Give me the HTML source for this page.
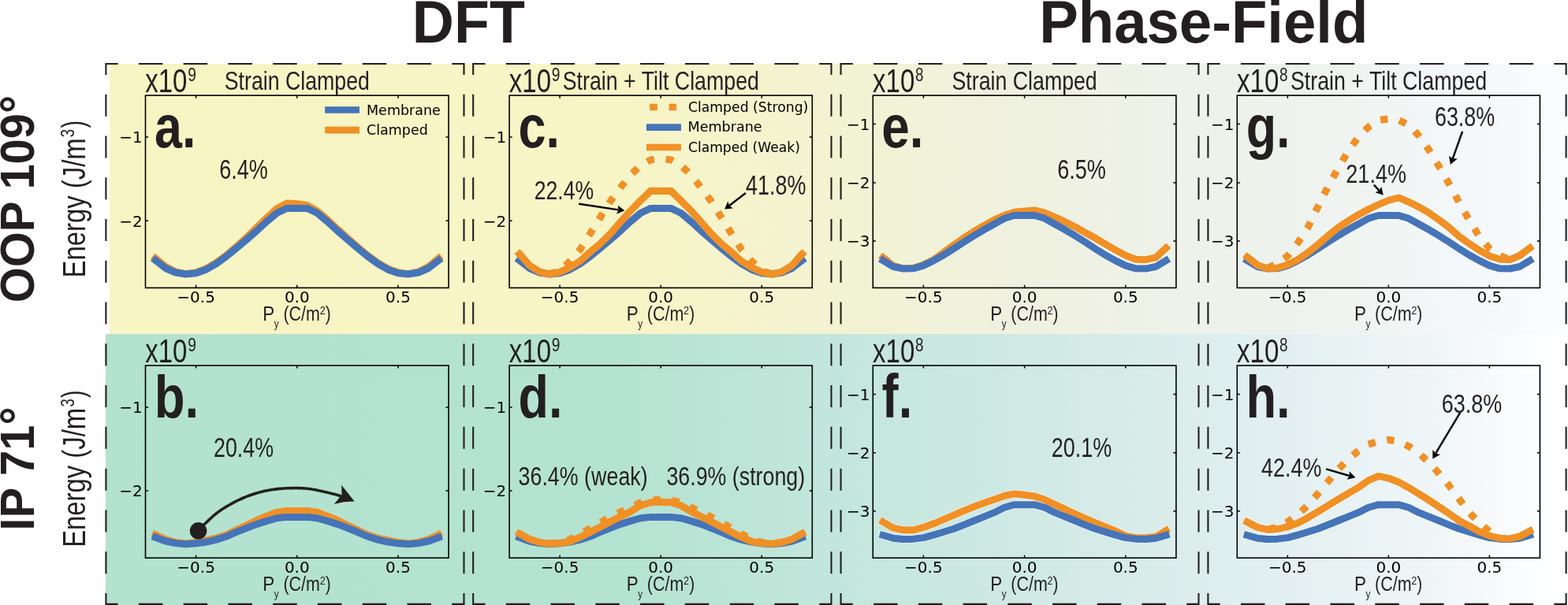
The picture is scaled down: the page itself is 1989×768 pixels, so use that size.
<!DOCTYPE html>
<html><head><meta charset="utf-8"><title>DFT vs Phase-Field energy landscapes</title>
<style>html,body{margin:0;padding:0;background:#fff;} svg{display:block;}</style></head>
<body><svg width="1989" height="768" viewBox="0 0 1989 768">
<defs>
<linearGradient id="gTop" gradientUnits="userSpaceOnUse" x1="139" y1="0" x2="1989" y2="0">
 <stop offset="0.0000" stop-color="#f8f5c4"/>
 <stop offset="0.3600" stop-color="#f7f4c6"/>
 <stop offset="0.5195" stop-color="#f2f3d4"/>
 <stop offset="0.6200" stop-color="#eff1df"/>
 <stop offset="0.7519" stop-color="#eef2ea"/>
 <stop offset="0.8000" stop-color="#edf2ec"/>
 <stop offset="0.8708" stop-color="#f0f5f3"/>
 <stop offset="0.9249" stop-color="#f3f7f9"/>
 <stop offset="0.9789" stop-color="#f9fbfd"/>
 <stop offset="1.0000" stop-color="#fcfdfe"/>
</linearGradient>
<linearGradient id="gBot" gradientUnits="userSpaceOnUse" x1="134" y1="0" x2="1989" y2="0">
 <stop offset="0.0000" stop-color="#b3e2cf"/>
 <stop offset="0.3590" stop-color="#b5e3d2"/>
 <stop offset="0.6216" stop-color="#cfe9e4"/>
 <stop offset="0.8000" stop-color="#e2eff0"/>
 <stop offset="0.8981" stop-color="#eef5f7"/>
 <stop offset="0.9520" stop-color="#f8fafc"/>
 <stop offset="0.9844" stop-color="#fdfeff"/>
 <stop offset="1.0000" stop-color="#ffffff"/>
</linearGradient>
</defs>
<rect x="0" y="0" width="1989" height="768" fill="#ffffff"/>
<rect x="139" y="81" width="1850" height="343" fill="url(#gTop)"/>
<rect x="134" y="424" width="1855" height="344" fill="url(#gBot)"/>
<path d="M133.35 81.05H149.65M175.91 81.05H206.41M232.68 81.05H263.18M289.44 81.05H319.94M346.20 81.05H376.70M402.96 81.05H433.46M459.73 81.05H490.23M516.49 81.05H546.99M573.25 81.05H589.55M133.35 766.90H149.65M175.91 766.90H206.41M232.68 766.90H263.18M289.44 766.90H319.94M346.20 766.90H376.70M402.96 766.90H433.46M459.73 766.90H490.23M516.49 766.90H546.99M573.25 766.90H589.55M134.40 80.00V95.05M134.40 119.81V147.81M134.40 172.57V200.57M134.40 225.32V253.32M134.40 278.08V306.08M134.40 330.84V358.84M134.40 383.60V411.60M134.40 436.35V464.35M134.40 489.11V517.11M134.40 541.87V569.87M134.40 594.63V622.63M134.40 647.38V675.38M134.40 700.14V728.14M134.40 752.90V767.95M588.50 80.00V95.05M588.50 119.81V147.81M588.50 172.57V200.57M588.50 225.32V253.32M588.50 278.08V306.08M588.50 330.84V358.84M588.50 383.60V411.60M588.50 436.35V464.35M588.50 489.11V517.11M588.50 541.87V569.87M588.50 594.63V622.63M588.50 647.38V675.38M588.50 700.14V728.14M588.50 752.90V767.95M599.15 81.05H615.45M641.74 81.05H672.24M698.53 81.05H729.03M755.31 81.05H785.81M812.10 81.05H842.60M868.89 81.05H899.39M925.68 81.05H956.18M982.46 81.05H1012.96M1039.25 81.05H1055.55M599.15 766.90H615.45M641.74 766.90H672.24M698.53 766.90H729.03M755.31 766.90H785.81M812.10 766.90H842.60M868.89 766.90H899.39M925.68 766.90H956.18M982.46 766.90H1012.96M1039.25 766.90H1055.55M600.20 80.00V95.05M600.20 119.81V147.81M600.20 172.57V200.57M600.20 225.32V253.32M600.20 278.08V306.08M600.20 330.84V358.84M600.20 383.60V411.60M600.20 436.35V464.35M600.20 489.11V517.11M600.20 541.87V569.87M600.20 594.63V622.63M600.20 647.38V675.38M600.20 700.14V728.14M600.20 752.90V767.95M1054.50 80.00V95.05M1054.50 119.81V147.81M1054.50 172.57V200.57M1054.50 225.32V253.32M1054.50 278.08V306.08M1054.50 330.84V358.84M1054.50 383.60V411.60M1054.50 436.35V464.35M1054.50 489.11V517.11M1054.50 541.87V569.87M1054.50 594.63V622.63M1054.50 647.38V675.38M1054.50 700.14V728.14M1054.50 752.90V767.95M1065.55 81.05H1081.85M1108.09 81.05H1138.59M1164.82 81.05H1195.32M1221.56 81.05H1252.06M1278.30 81.05H1308.80M1335.04 81.05H1365.54M1391.77 81.05H1422.27M1448.51 81.05H1479.01M1505.25 81.05H1521.55M1065.55 766.90H1081.85M1108.09 766.90H1138.59M1164.82 766.90H1195.32M1221.56 766.90H1252.06M1278.30 766.90H1308.80M1335.04 766.90H1365.54M1391.77 766.90H1422.27M1448.51 766.90H1479.01M1505.25 766.90H1521.55M1066.60 80.00V95.05M1066.60 119.81V147.81M1066.60 172.57V200.57M1066.60 225.32V253.32M1066.60 278.08V306.08M1066.60 330.84V358.84M1066.60 383.60V411.60M1066.60 436.35V464.35M1066.60 489.11V517.11M1066.60 541.87V569.87M1066.60 594.63V622.63M1066.60 647.38V675.38M1066.60 700.14V728.14M1066.60 752.90V767.95M1520.50 80.00V95.05M1520.50 119.81V147.81M1520.50 172.57V200.57M1520.50 225.32V253.32M1520.50 278.08V306.08M1520.50 330.84V358.84M1520.50 383.60V411.60M1520.50 436.35V464.35M1520.50 489.11V517.11M1520.50 541.87V569.87M1520.50 594.63V622.63M1520.50 647.38V675.38M1520.50 700.14V728.14M1520.50 752.90V767.95M1531.35 81.05H1547.65M1573.93 81.05H1604.43M1630.70 81.05H1661.20M1687.48 81.05H1717.98M1744.25 81.05H1774.75M1801.03 81.05H1831.53M1857.80 81.05H1888.30M1914.58 81.05H1945.08M1971.35 81.05H1987.65M1531.35 766.90H1547.65M1573.93 766.90H1604.43M1630.70 766.90H1661.20M1687.48 766.90H1717.98M1744.25 766.90H1774.75M1801.03 766.90H1831.53M1857.80 766.90H1888.30M1914.58 766.90H1945.08M1971.35 766.90H1987.65M1532.40 80.00V95.05M1532.40 119.81V147.81M1532.40 172.57V200.57M1532.40 225.32V253.32M1532.40 278.08V306.08M1532.40 330.84V358.84M1532.40 383.60V411.60M1532.40 436.35V464.35M1532.40 489.11V517.11M1532.40 541.87V569.87M1532.40 594.63V622.63M1532.40 647.38V675.38M1532.40 700.14V728.14M1532.40 752.90V767.95M1986.60 80.00V95.05M1986.60 119.81V147.81M1986.60 172.57V200.57M1986.60 225.32V253.32M1986.60 278.08V306.08M1986.60 330.84V358.84M1986.60 383.60V411.60M1986.60 436.35V464.35M1986.60 489.11V517.11M1986.60 541.87V569.87M1986.60 594.63V622.63M1986.60 647.38V675.38M1986.60 700.14V728.14M1986.60 752.90V767.95" stroke="#231f20" stroke-width="2.1" fill="none"/>
<text transform="translate(522.79 53.60) scale(0.9591 1)" font-family="'Liberation Sans', Arial, sans-serif" font-size="76.75" font-weight="bold" fill="#231f20">DFT</text>
<text transform="translate(1318.14 53.90) scale(0.9689 1)" font-family="'Liberation Sans', Arial, sans-serif" font-size="76.75" font-weight="bold" fill="#231f20">Phase-Field</text>
<text transform="translate(43.14 384.21) rotate(-90) scale(0.9522 1)" font-family="'Liberation Sans', Arial, sans-serif" font-size="60.78" font-weight="bold" fill="#231f20">OOP 109°</text>
<text transform="translate(43.20 673.66) rotate(-90) scale(0.9580 1)" font-family="'Liberation Sans', Arial, sans-serif" font-size="60.43" font-weight="bold" fill="#231f20">IP 71°</text>
<text transform="translate(107.50 352.44) rotate(-90) scale(0.7938 1)" font-family="'Liberation Sans', Arial, sans-serif" font-size="41.40" fill="#231f20">Energy (J/m</text>
<text transform="translate(94.36 174.14) rotate(-90) scale(0.7594 1)" font-family="'Liberation Sans', Arial, sans-serif" font-size="24.48" fill="#231f20">3</text>
<text transform="translate(107.37 162.49) rotate(-90) scale(0.7157 1)" font-family="'Liberation Sans', Arial, sans-serif" font-size="40.32" fill="#231f20">)</text>
<text transform="translate(107.50 694.84) rotate(-90) scale(0.7938 1)" font-family="'Liberation Sans', Arial, sans-serif" font-size="41.40" fill="#231f20">Energy (J/m</text>
<text transform="translate(94.36 516.54) rotate(-90) scale(0.7594 1)" font-family="'Liberation Sans', Arial, sans-serif" font-size="24.48" fill="#231f20">3</text>
<text transform="translate(107.37 504.89) rotate(-90) scale(0.7157 1)" font-family="'Liberation Sans', Arial, sans-serif" font-size="40.32" fill="#231f20">)</text>
<path d="M248.60 365.40v-3.6M248.60 121.15v3.6M376.80 365.40v-3.6M376.80 121.15v3.6M505.00 365.40v-3.6M505.00 121.15v3.6M184.50 174.10h3.6M569.10 174.10h-3.6M184.50 280.20h3.6M569.10 280.20h-3.6" stroke="#000" stroke-width="1.5" fill="none"/>
<rect x="184.50" y="121.15" width="384.60" height="244.25" fill="none" stroke="#000" stroke-width="1.6"/>
<text x="248.60" y="384.20" font-family="'DejaVu Sans', sans-serif" font-size="20" text-anchor="middle" fill="#000">−0.5</text>
<text x="376.80" y="384.20" font-family="'DejaVu Sans', sans-serif" font-size="20" text-anchor="middle" fill="#000">0.0</text>
<text x="505.00" y="384.20" font-family="'DejaVu Sans', sans-serif" font-size="20" text-anchor="middle" fill="#000">0.5</text>
<text x="180.70" y="181.45" font-family="'DejaVu Sans', sans-serif" font-size="20" text-anchor="end" fill="#000">−1</text>
<text x="180.70" y="287.55" font-family="'DejaVu Sans', sans-serif" font-size="20" text-anchor="end" fill="#000">−2</text>
<text transform="translate(333.33 407.20) scale(0.8518 1)" font-family="'Liberation Sans', Arial, sans-serif" font-size="26.36" fill="#231f20">P</text>
<text transform="translate(347.86 415.94) scale(0.7946 1)" font-family="'Liberation Sans', Arial, sans-serif" font-size="14.80" fill="#231f20">y</text>
<text transform="translate(359.44 407.31) scale(0.8097 1)" font-family="'Liberation Sans', Arial, sans-serif" font-size="26.56" fill="#231f20">(C/m</text>
<text transform="translate(405.66 399.10) scale(0.9029 1)" font-family="'Liberation Sans', Arial, sans-serif" font-size="14.07" fill="#231f20">2</text>
<text transform="translate(412.76 407.31) scale(0.7864 1)" font-family="'Liberation Sans', Arial, sans-serif" font-size="26.56" fill="#231f20">)</text>
<text transform="translate(184.26 116.58) scale(0.7802 1)" font-family="'Liberation Sans', Arial, sans-serif" font-size="42.31" fill="#231f20">x10</text>
<text transform="translate(238.20 103.11) scale(0.7915 1)" font-family="'Liberation Sans', Arial, sans-serif" font-size="24.27" fill="#231f20">9</text>
<text transform="translate(284.75 113.95) scale(0.7966 1)" font-family="'Liberation Sans', Arial, sans-serif" font-size="33.57" fill="#231f20">Strain Clamped</text>
<path d="M710.13 365.40v-3.6M710.13 121.15v3.6M838.20 365.40v-3.6M838.20 121.15v3.6M966.27 365.40v-3.6M966.27 121.15v3.6M646.10 174.10h3.6M1030.30 174.10h-3.6M646.10 280.20h3.6M1030.30 280.20h-3.6" stroke="#000" stroke-width="1.5" fill="none"/>
<rect x="646.10" y="121.15" width="384.20" height="244.25" fill="none" stroke="#000" stroke-width="1.6"/>
<text x="710.13" y="384.20" font-family="'DejaVu Sans', sans-serif" font-size="20" text-anchor="middle" fill="#000">−0.5</text>
<text x="838.20" y="384.20" font-family="'DejaVu Sans', sans-serif" font-size="20" text-anchor="middle" fill="#000">0.0</text>
<text x="966.27" y="384.20" font-family="'DejaVu Sans', sans-serif" font-size="20" text-anchor="middle" fill="#000">0.5</text>
<text x="642.30" y="181.45" font-family="'DejaVu Sans', sans-serif" font-size="20" text-anchor="end" fill="#000">−1</text>
<text x="642.30" y="287.55" font-family="'DejaVu Sans', sans-serif" font-size="20" text-anchor="end" fill="#000">−2</text>
<text transform="translate(794.73 407.20) scale(0.8518 1)" font-family="'Liberation Sans', Arial, sans-serif" font-size="26.36" fill="#231f20">P</text>
<text transform="translate(809.26 415.94) scale(0.7946 1)" font-family="'Liberation Sans', Arial, sans-serif" font-size="14.80" fill="#231f20">y</text>
<text transform="translate(820.84 407.31) scale(0.8097 1)" font-family="'Liberation Sans', Arial, sans-serif" font-size="26.56" fill="#231f20">(C/m</text>
<text transform="translate(867.06 399.10) scale(0.9029 1)" font-family="'Liberation Sans', Arial, sans-serif" font-size="14.07" fill="#231f20">2</text>
<text transform="translate(874.16 407.31) scale(0.7864 1)" font-family="'Liberation Sans', Arial, sans-serif" font-size="26.56" fill="#231f20">)</text>
<text transform="translate(645.86 116.58) scale(0.7802 1)" font-family="'Liberation Sans', Arial, sans-serif" font-size="42.31" fill="#231f20">x10</text>
<text transform="translate(699.80 103.11) scale(0.7915 1)" font-family="'Liberation Sans', Arial, sans-serif" font-size="24.27" fill="#231f20">9</text>
<text transform="translate(713.75 113.95) scale(0.7975 1)" font-family="'Liberation Sans', Arial, sans-serif" font-size="33.57" fill="#231f20">Strain + Tilt Clamped</text>
<path d="M1171.40 365.40v-3.6M1171.40 121.15v3.6M1299.60 365.40v-3.6M1299.60 121.15v3.6M1427.80 365.40v-3.6M1427.80 121.15v3.6M1107.30 157.60h3.6M1491.90 157.60h-3.6M1107.30 231.90h3.6M1491.90 231.90h-3.6M1107.30 305.90h3.6M1491.90 305.90h-3.6" stroke="#000" stroke-width="1.5" fill="none"/>
<rect x="1107.30" y="121.15" width="384.60" height="244.25" fill="none" stroke="#000" stroke-width="1.6"/>
<text x="1171.40" y="384.20" font-family="'DejaVu Sans', sans-serif" font-size="20" text-anchor="middle" fill="#000">−0.5</text>
<text x="1299.60" y="384.20" font-family="'DejaVu Sans', sans-serif" font-size="20" text-anchor="middle" fill="#000">0.0</text>
<text x="1427.80" y="384.20" font-family="'DejaVu Sans', sans-serif" font-size="20" text-anchor="middle" fill="#000">0.5</text>
<text x="1103.50" y="164.95" font-family="'DejaVu Sans', sans-serif" font-size="20" text-anchor="end" fill="#000">−1</text>
<text x="1103.50" y="239.25" font-family="'DejaVu Sans', sans-serif" font-size="20" text-anchor="end" fill="#000">−2</text>
<text x="1103.50" y="313.25" font-family="'DejaVu Sans', sans-serif" font-size="20" text-anchor="end" fill="#000">−3</text>
<text transform="translate(1256.13 407.20) scale(0.8518 1)" font-family="'Liberation Sans', Arial, sans-serif" font-size="26.36" fill="#231f20">P</text>
<text transform="translate(1270.66 415.94) scale(0.7946 1)" font-family="'Liberation Sans', Arial, sans-serif" font-size="14.80" fill="#231f20">y</text>
<text transform="translate(1282.24 407.31) scale(0.8097 1)" font-family="'Liberation Sans', Arial, sans-serif" font-size="26.56" fill="#231f20">(C/m</text>
<text transform="translate(1328.46 399.10) scale(0.9029 1)" font-family="'Liberation Sans', Arial, sans-serif" font-size="14.07" fill="#231f20">2</text>
<text transform="translate(1335.56 407.31) scale(0.7864 1)" font-family="'Liberation Sans', Arial, sans-serif" font-size="26.56" fill="#231f20">)</text>
<text transform="translate(1107.06 116.58) scale(0.7802 1)" font-family="'Liberation Sans', Arial, sans-serif" font-size="42.31" fill="#231f20">x10</text>
<text transform="translate(1161.08 103.11) scale(0.7803 1)" font-family="'Liberation Sans', Arial, sans-serif" font-size="24.27" fill="#231f20">8</text>
<text transform="translate(1207.55 113.95) scale(0.7966 1)" font-family="'Liberation Sans', Arial, sans-serif" font-size="33.57" fill="#231f20">Strain Clamped</text>
<path d="M1633.32 365.40v-3.6M1633.32 121.15v3.6M1761.35 365.40v-3.6M1761.35 121.15v3.6M1889.38 365.40v-3.6M1889.38 121.15v3.6M1569.30 157.60h3.6M1953.40 157.60h-3.6M1569.30 231.90h3.6M1953.40 231.90h-3.6M1569.30 305.90h3.6M1953.40 305.90h-3.6" stroke="#000" stroke-width="1.5" fill="none"/>
<rect x="1569.30" y="121.15" width="384.10" height="244.25" fill="none" stroke="#000" stroke-width="1.6"/>
<text x="1633.32" y="384.20" font-family="'DejaVu Sans', sans-serif" font-size="20" text-anchor="middle" fill="#000">−0.5</text>
<text x="1761.35" y="384.20" font-family="'DejaVu Sans', sans-serif" font-size="20" text-anchor="middle" fill="#000">0.0</text>
<text x="1889.38" y="384.20" font-family="'DejaVu Sans', sans-serif" font-size="20" text-anchor="middle" fill="#000">0.5</text>
<text x="1565.50" y="164.95" font-family="'DejaVu Sans', sans-serif" font-size="20" text-anchor="end" fill="#000">−1</text>
<text x="1565.50" y="239.25" font-family="'DejaVu Sans', sans-serif" font-size="20" text-anchor="end" fill="#000">−2</text>
<text x="1565.50" y="313.25" font-family="'DejaVu Sans', sans-serif" font-size="20" text-anchor="end" fill="#000">−3</text>
<text transform="translate(1717.88 407.20) scale(0.8518 1)" font-family="'Liberation Sans', Arial, sans-serif" font-size="26.36" fill="#231f20">P</text>
<text transform="translate(1732.41 415.94) scale(0.7946 1)" font-family="'Liberation Sans', Arial, sans-serif" font-size="14.80" fill="#231f20">y</text>
<text transform="translate(1743.99 407.31) scale(0.8097 1)" font-family="'Liberation Sans', Arial, sans-serif" font-size="26.56" fill="#231f20">(C/m</text>
<text transform="translate(1790.21 399.10) scale(0.9029 1)" font-family="'Liberation Sans', Arial, sans-serif" font-size="14.07" fill="#231f20">2</text>
<text transform="translate(1797.31 407.31) scale(0.7864 1)" font-family="'Liberation Sans', Arial, sans-serif" font-size="26.56" fill="#231f20">)</text>
<text transform="translate(1569.06 116.58) scale(0.7802 1)" font-family="'Liberation Sans', Arial, sans-serif" font-size="42.31" fill="#231f20">x10</text>
<text transform="translate(1623.08 103.11) scale(0.7803 1)" font-family="'Liberation Sans', Arial, sans-serif" font-size="24.27" fill="#231f20">8</text>
<text transform="translate(1636.95 113.95) scale(0.7975 1)" font-family="'Liberation Sans', Arial, sans-serif" font-size="33.57" fill="#231f20">Strain + Tilt Clamped</text>
<path d="M248.60 708.25v-3.6M248.60 464.00v3.6M376.80 708.25v-3.6M376.80 464.00v3.6M505.00 708.25v-3.6M505.00 464.00v3.6M184.50 516.95h3.6M569.10 516.95h-3.6M184.50 623.05h3.6M569.10 623.05h-3.6" stroke="#000" stroke-width="1.5" fill="none"/>
<rect x="184.50" y="464.00" width="384.60" height="244.25" fill="none" stroke="#000" stroke-width="1.6"/>
<text x="248.60" y="727.05" font-family="'DejaVu Sans', sans-serif" font-size="20" text-anchor="middle" fill="#000">−0.5</text>
<text x="376.80" y="727.05" font-family="'DejaVu Sans', sans-serif" font-size="20" text-anchor="middle" fill="#000">0.0</text>
<text x="505.00" y="727.05" font-family="'DejaVu Sans', sans-serif" font-size="20" text-anchor="middle" fill="#000">0.5</text>
<text x="180.70" y="524.30" font-family="'DejaVu Sans', sans-serif" font-size="20" text-anchor="end" fill="#000">−1</text>
<text x="180.70" y="630.40" font-family="'DejaVu Sans', sans-serif" font-size="20" text-anchor="end" fill="#000">−2</text>
<text transform="translate(333.33 750.05) scale(0.8518 1)" font-family="'Liberation Sans', Arial, sans-serif" font-size="26.36" fill="#231f20">P</text>
<text transform="translate(347.86 758.79) scale(0.7946 1)" font-family="'Liberation Sans', Arial, sans-serif" font-size="14.80" fill="#231f20">y</text>
<text transform="translate(359.44 750.16) scale(0.8097 1)" font-family="'Liberation Sans', Arial, sans-serif" font-size="26.56" fill="#231f20">(C/m</text>
<text transform="translate(405.66 741.95) scale(0.9029 1)" font-family="'Liberation Sans', Arial, sans-serif" font-size="14.07" fill="#231f20">2</text>
<text transform="translate(412.76 750.16) scale(0.7864 1)" font-family="'Liberation Sans', Arial, sans-serif" font-size="26.56" fill="#231f20">)</text>
<text transform="translate(184.26 459.88) scale(0.7802 1)" font-family="'Liberation Sans', Arial, sans-serif" font-size="42.31" fill="#231f20">x10</text>
<text transform="translate(238.20 446.41) scale(0.7915 1)" font-family="'Liberation Sans', Arial, sans-serif" font-size="24.27" fill="#231f20">9</text>
<path d="M710.13 708.25v-3.6M710.13 464.00v3.6M838.20 708.25v-3.6M838.20 464.00v3.6M966.27 708.25v-3.6M966.27 464.00v3.6M646.10 516.95h3.6M1030.30 516.95h-3.6M646.10 623.05h3.6M1030.30 623.05h-3.6" stroke="#000" stroke-width="1.5" fill="none"/>
<rect x="646.10" y="464.00" width="384.20" height="244.25" fill="none" stroke="#000" stroke-width="1.6"/>
<text x="710.13" y="727.05" font-family="'DejaVu Sans', sans-serif" font-size="20" text-anchor="middle" fill="#000">−0.5</text>
<text x="838.20" y="727.05" font-family="'DejaVu Sans', sans-serif" font-size="20" text-anchor="middle" fill="#000">0.0</text>
<text x="966.27" y="727.05" font-family="'DejaVu Sans', sans-serif" font-size="20" text-anchor="middle" fill="#000">0.5</text>
<text x="642.30" y="524.30" font-family="'DejaVu Sans', sans-serif" font-size="20" text-anchor="end" fill="#000">−1</text>
<text x="642.30" y="630.40" font-family="'DejaVu Sans', sans-serif" font-size="20" text-anchor="end" fill="#000">−2</text>
<text transform="translate(794.73 750.05) scale(0.8518 1)" font-family="'Liberation Sans', Arial, sans-serif" font-size="26.36" fill="#231f20">P</text>
<text transform="translate(809.26 758.79) scale(0.7946 1)" font-family="'Liberation Sans', Arial, sans-serif" font-size="14.80" fill="#231f20">y</text>
<text transform="translate(820.84 750.16) scale(0.8097 1)" font-family="'Liberation Sans', Arial, sans-serif" font-size="26.56" fill="#231f20">(C/m</text>
<text transform="translate(867.06 741.95) scale(0.9029 1)" font-family="'Liberation Sans', Arial, sans-serif" font-size="14.07" fill="#231f20">2</text>
<text transform="translate(874.16 750.16) scale(0.7864 1)" font-family="'Liberation Sans', Arial, sans-serif" font-size="26.56" fill="#231f20">)</text>
<text transform="translate(645.86 459.88) scale(0.7802 1)" font-family="'Liberation Sans', Arial, sans-serif" font-size="42.31" fill="#231f20">x10</text>
<text transform="translate(699.80 446.41) scale(0.7915 1)" font-family="'Liberation Sans', Arial, sans-serif" font-size="24.27" fill="#231f20">9</text>
<path d="M1171.40 708.25v-3.6M1171.40 464.00v3.6M1299.60 708.25v-3.6M1299.60 464.00v3.6M1427.80 708.25v-3.6M1427.80 464.00v3.6M1107.30 500.45h3.6M1491.90 500.45h-3.6M1107.30 574.75h3.6M1491.90 574.75h-3.6M1107.30 648.75h3.6M1491.90 648.75h-3.6" stroke="#000" stroke-width="1.5" fill="none"/>
<rect x="1107.30" y="464.00" width="384.60" height="244.25" fill="none" stroke="#000" stroke-width="1.6"/>
<text x="1171.40" y="727.05" font-family="'DejaVu Sans', sans-serif" font-size="20" text-anchor="middle" fill="#000">−0.5</text>
<text x="1299.60" y="727.05" font-family="'DejaVu Sans', sans-serif" font-size="20" text-anchor="middle" fill="#000">0.0</text>
<text x="1427.80" y="727.05" font-family="'DejaVu Sans', sans-serif" font-size="20" text-anchor="middle" fill="#000">0.5</text>
<text x="1103.50" y="507.80" font-family="'DejaVu Sans', sans-serif" font-size="20" text-anchor="end" fill="#000">−1</text>
<text x="1103.50" y="582.10" font-family="'DejaVu Sans', sans-serif" font-size="20" text-anchor="end" fill="#000">−2</text>
<text x="1103.50" y="656.10" font-family="'DejaVu Sans', sans-serif" font-size="20" text-anchor="end" fill="#000">−3</text>
<text transform="translate(1256.13 750.05) scale(0.8518 1)" font-family="'Liberation Sans', Arial, sans-serif" font-size="26.36" fill="#231f20">P</text>
<text transform="translate(1270.66 758.79) scale(0.7946 1)" font-family="'Liberation Sans', Arial, sans-serif" font-size="14.80" fill="#231f20">y</text>
<text transform="translate(1282.24 750.16) scale(0.8097 1)" font-family="'Liberation Sans', Arial, sans-serif" font-size="26.56" fill="#231f20">(C/m</text>
<text transform="translate(1328.46 741.95) scale(0.9029 1)" font-family="'Liberation Sans', Arial, sans-serif" font-size="14.07" fill="#231f20">2</text>
<text transform="translate(1335.56 750.16) scale(0.7864 1)" font-family="'Liberation Sans', Arial, sans-serif" font-size="26.56" fill="#231f20">)</text>
<text transform="translate(1107.06 459.88) scale(0.7802 1)" font-family="'Liberation Sans', Arial, sans-serif" font-size="42.31" fill="#231f20">x10</text>
<text transform="translate(1161.08 446.41) scale(0.7803 1)" font-family="'Liberation Sans', Arial, sans-serif" font-size="24.27" fill="#231f20">8</text>
<path d="M1633.32 708.25v-3.6M1633.32 464.00v3.6M1761.35 708.25v-3.6M1761.35 464.00v3.6M1889.38 708.25v-3.6M1889.38 464.00v3.6M1569.30 500.45h3.6M1953.40 500.45h-3.6M1569.30 574.75h3.6M1953.40 574.75h-3.6M1569.30 648.75h3.6M1953.40 648.75h-3.6" stroke="#000" stroke-width="1.5" fill="none"/>
<rect x="1569.30" y="464.00" width="384.10" height="244.25" fill="none" stroke="#000" stroke-width="1.6"/>
<text x="1633.32" y="727.05" font-family="'DejaVu Sans', sans-serif" font-size="20" text-anchor="middle" fill="#000">−0.5</text>
<text x="1761.35" y="727.05" font-family="'DejaVu Sans', sans-serif" font-size="20" text-anchor="middle" fill="#000">0.0</text>
<text x="1889.38" y="727.05" font-family="'DejaVu Sans', sans-serif" font-size="20" text-anchor="middle" fill="#000">0.5</text>
<text x="1565.50" y="507.80" font-family="'DejaVu Sans', sans-serif" font-size="20" text-anchor="end" fill="#000">−1</text>
<text x="1565.50" y="582.10" font-family="'DejaVu Sans', sans-serif" font-size="20" text-anchor="end" fill="#000">−2</text>
<text x="1565.50" y="656.10" font-family="'DejaVu Sans', sans-serif" font-size="20" text-anchor="end" fill="#000">−3</text>
<text transform="translate(1717.88 750.05) scale(0.8518 1)" font-family="'Liberation Sans', Arial, sans-serif" font-size="26.36" fill="#231f20">P</text>
<text transform="translate(1732.41 758.79) scale(0.7946 1)" font-family="'Liberation Sans', Arial, sans-serif" font-size="14.80" fill="#231f20">y</text>
<text transform="translate(1743.99 750.16) scale(0.8097 1)" font-family="'Liberation Sans', Arial, sans-serif" font-size="26.56" fill="#231f20">(C/m</text>
<text transform="translate(1790.21 741.95) scale(0.9029 1)" font-family="'Liberation Sans', Arial, sans-serif" font-size="14.07" fill="#231f20">2</text>
<text transform="translate(1797.31 750.16) scale(0.7864 1)" font-family="'Liberation Sans', Arial, sans-serif" font-size="26.56" fill="#231f20">)</text>
<text transform="translate(1569.06 459.88) scale(0.7802 1)" font-family="'Liberation Sans', Arial, sans-serif" font-size="42.31" fill="#231f20">x10</text>
<text transform="translate(1623.08 446.41) scale(0.7803 1)" font-family="'Liberation Sans', Arial, sans-serif" font-size="24.27" fill="#231f20">8</text>
<text transform="translate(196.12 187.13) scale(0.8182 1)" font-family="'Liberation Sans', Arial, sans-serif" font-size="76.65" font-weight="bold" fill="#231f20">a.</text>
<text transform="translate(657.48 187.13) scale(0.8223 1)" font-family="'Liberation Sans', Arial, sans-serif" font-size="76.65" font-weight="bold" fill="#231f20">c.</text>
<text transform="translate(1118.25 187.13) scale(0.8331 1)" font-family="'Liberation Sans', Arial, sans-serif" font-size="76.65" font-weight="bold" fill="#231f20">e.</text>
<text transform="translate(1580.69 186.79) scale(0.8317 1)" font-family="'Liberation Sans', Arial, sans-serif" font-size="75.53" font-weight="bold" fill="#231f20">g.</text>
<text transform="translate(195.76 529.64) scale(0.8326 1)" font-family="'Liberation Sans', Arial, sans-serif" font-size="76.36" font-weight="bold" fill="#231f20">b.</text>
<text transform="translate(657.48 529.64) scale(0.8243 1)" font-family="'Liberation Sans', Arial, sans-serif" font-size="76.36" font-weight="bold" fill="#231f20">d.</text>
<text transform="translate(1118.54 529.90) scale(0.8133 1)" font-family="'Liberation Sans', Arial, sans-serif" font-size="77.97" font-weight="bold" fill="#231f20">f.</text>
<text transform="translate(1580.38 529.90) scale(0.8237 1)" font-family="'Liberation Sans', Arial, sans-serif" font-size="76.73" font-weight="bold" fill="#231f20">h.</text>
<text transform="translate(278.15 227.06) scale(0.7862 1)" font-family="'Liberation Sans', Arial, sans-serif" font-size="34.39" fill="#231f20">6.4%</text>
<text transform="translate(677.67 253.17) scale(0.7844 1)" font-family="'Liberation Sans', Arial, sans-serif" font-size="33.98" fill="#231f20">22.4%</text>
<text transform="translate(945.97 246.55) scale(0.7739 1)" font-family="'Liberation Sans', Arial, sans-serif" font-size="34.81" fill="#231f20">41.8%</text>
<text transform="translate(1341.14 227.05) scale(0.7825 1)" font-family="'Liberation Sans', Arial, sans-serif" font-size="34.67" fill="#231f20">6.5%</text>
<text transform="translate(1819.96 160.16) scale(0.7847 1)" font-family="'Liberation Sans', Arial, sans-serif" font-size="34.25" fill="#231f20">63.8%</text>
<text transform="translate(1707.35 232.07) scale(0.7918 1)" font-family="'Liberation Sans', Arial, sans-serif" font-size="34.12" fill="#231f20">21.4%</text>
<text transform="translate(270.96 580.35) scale(0.7683 1)" font-family="'Liberation Sans', Arial, sans-serif" font-size="34.95" fill="#231f20">20.4%</text>
<text transform="translate(1333.65 580.06) scale(0.7879 1)" font-family="'Liberation Sans', Arial, sans-serif" font-size="34.25" fill="#231f20">20.1%</text>
<text transform="translate(1828.75 524.46) scale(0.7978 1)" font-family="'Liberation Sans', Arial, sans-serif" font-size="33.82" fill="#231f20">63.8%</text>
<text transform="translate(1600.07 605.37) scale(0.7895 1)" font-family="'Liberation Sans', Arial, sans-serif" font-size="34.12" fill="#231f20">42.4%</text>
<text transform="translate(657.53 616.05) scale(0.8188 1)" font-family="'Liberation Sans', Arial, sans-serif" font-size="32.80" fill="#231f20">36.4% (weak)</text>
<text transform="translate(845.43 616.05) scale(0.8174 1)" font-family="'Liberation Sans', Arial, sans-serif" font-size="32.80" fill="#231f20">36.9% (strong)</text>
<path d="M412.10 139.50H456.00" stroke="#4574b9" stroke-width="8.6" fill="none"/>
<path d="M412.10 165.15H456.00" stroke="#f09025" stroke-width="8.6" fill="none"/>
<text transform="translate(465.01 145.50) scale(0.9957 1)" font-family="'DejaVu Sans', sans-serif" font-size="17.60" fill="#000">Membrane</text>
<text transform="translate(465.01 171.30) scale(0.9937 1)" font-family="'DejaVu Sans', sans-serif" font-size="17.60" fill="#000">Clamped</text>
<path d="M824.20 135.95H864.00" stroke="#f09025" stroke-width="8.6" stroke-dasharray="9.6 14.7" fill="none"/>
<path d="M820.00 161.60H864.00" stroke="#4574b9" stroke-width="8.6" fill="none"/>
<path d="M820.00 187.05H864.00" stroke="#f09025" stroke-width="8.6" fill="none"/>
<text transform="translate(872.92 142.10) scale(0.9803 1)" font-family="'DejaVu Sans', sans-serif" font-size="17.60" fill="#000">Clamped (Strong)</text>
<text transform="translate(872.50 167.30) scale(0.9979 1)" font-family="'DejaVu Sans', sans-serif" font-size="17.60" fill="#000">Membrane</text>
<text transform="translate(872.93 192.80) scale(0.9744 1)" font-family="'DejaVu Sans', sans-serif" font-size="17.60" fill="#000">Clamped (Weak)</text>
<defs>
<clipPath id="cl00"><rect x="184.50" y="121.15" width="384.60" height="244.25"/></clipPath>
<clipPath id="cl01"><rect x="646.10" y="121.15" width="384.20" height="244.25"/></clipPath>
<clipPath id="cl02"><rect x="1107.30" y="121.15" width="384.60" height="244.25"/></clipPath>
<clipPath id="cl03"><rect x="1569.30" y="121.15" width="384.10" height="244.25"/></clipPath>
<clipPath id="cl10"><rect x="184.50" y="464.00" width="384.60" height="244.25"/></clipPath>
<clipPath id="cl11"><rect x="646.10" y="464.00" width="384.20" height="244.25"/></clipPath>
<clipPath id="cl12"><rect x="1107.30" y="464.00" width="384.60" height="244.25"/></clipPath>
<clipPath id="cl13"><rect x="1569.30" y="464.00" width="384.10" height="244.25"/></clipPath>
</defs>
<path d="M197.32 327.90 L210.14 338.60 L222.96 345.20 L235.78 347.70 L248.60 346.00 L261.42 341.06 L274.24 333.50 L287.06 324.18 L299.88 313.20 L312.70 301.42 L325.52 289.00 L338.34 276.50 L351.16 264.80 L363.98 258.10 L376.80 258.77 L389.62 260.60 L402.44 268.00 L415.26 278.74 L428.08 290.80 L440.90 302.39 L453.72 313.60 L466.54 324.35 L479.36 333.60 L492.18 341.09 L505.00 346.00 L517.82 347.70 L530.64 345.20 L543.46 338.60 L556.28 327.90" stroke="#f09025" stroke-width="9.0" fill="none" stroke-linecap="square" stroke-linejoin="round" clip-path="url(#cl00)"/>
<path d="M197.32 330.50 L210.14 340.50 L222.96 346.00 L235.78 348.00 L248.60 346.80 L261.42 342.20 L274.24 334.80 L287.06 325.50 L299.88 315.00 L312.70 304.20 L325.52 293.00 L338.34 281.20 L351.16 270.50 L363.98 264.40 L376.80 264.40 L389.62 264.40 L402.44 270.50 L415.26 281.20 L428.08 293.00 L440.90 304.20 L453.72 315.00 L466.54 325.50 L479.36 334.80 L492.18 342.20 L505.00 346.80 L517.82 348.00 L530.64 346.00 L543.46 340.50 L556.28 330.50" stroke="#4574b9" stroke-width="9.0" fill="none" stroke-linecap="square" stroke-linejoin="round" clip-path="url(#cl00)"/>
<path d="M658.91 322.50 L671.71 337.07 L684.52 345.00 L697.33 347.50 L710.13 344.00 L722.94 331.59 L735.75 316.89 L748.55 296.60 L761.36 276.05 L774.17 255.56 L786.97 238.25 L799.78 222.01 L812.59 209.98 L825.39 202.90 L838.20 201.50 L851.01 202.90 L863.81 209.98 L876.62 222.01 L889.43 238.25 L902.23 255.56 L915.04 276.05 L927.85 296.60 L940.65 316.89 L953.46 331.59 L966.27 344.00 L979.07 347.50 L991.88 345.00 L1004.69 337.07 L1017.49 322.50" stroke="#f09025" stroke-width="9.0" fill="none" stroke-dasharray="9.4 14.8" stroke-dashoffset="1.97" stroke-linejoin="round" clip-path="url(#cl01)"/>
<path d="M658.91 330.50 L671.71 340.50 L684.52 346.00 L697.33 348.00 L710.13 346.80 L722.94 342.20 L735.75 334.80 L748.55 325.50 L761.36 315.00 L774.17 304.20 L786.97 293.00 L799.78 281.20 L812.59 270.50 L825.39 264.40 L838.20 264.40 L851.01 264.40 L863.81 270.50 L876.62 281.20 L889.43 293.00 L902.23 304.20 L915.04 315.00 L927.85 325.50 L940.65 334.80 L953.46 342.20 L966.27 346.80 L979.07 348.00 L991.88 346.00 L1004.69 340.50 L1017.49 330.50" stroke="#4574b9" stroke-width="9.0" fill="none" stroke-linecap="square" stroke-linejoin="round" clip-path="url(#cl01)"/>
<path d="M658.91 322.50 L671.71 337.00 L684.52 345.00 L697.33 348.20 L710.13 345.40 L722.94 339.50 L735.75 331.50 L748.55 320.04 L761.36 309.35 L774.17 296.68 L786.97 282.00 L799.78 267.57 L812.59 254.70 L825.39 242.30 L838.20 242.60 L851.01 242.30 L863.81 254.70 L876.62 267.57 L889.43 282.00 L902.23 296.68 L915.04 309.35 L927.85 320.04 L940.65 331.50 L953.46 339.50 L966.27 345.40 L979.07 348.20 L991.88 345.00 L1004.69 337.00 L1017.49 322.50" stroke="#f09025" stroke-width="9.0" fill="none" stroke-linecap="square" stroke-linejoin="round" clip-path="url(#cl01)"/>
<path d="M1120.12 326.80 L1132.94 337.25 L1145.76 340.94 L1158.58 340.16 L1171.40 335.91 L1184.22 329.75 L1197.04 320.36 L1209.86 310.85 L1222.68 301.90 L1235.50 293.70 L1248.32 286.09 L1261.14 279.20 L1273.96 273.22 L1286.78 269.20 L1299.60 268.00 L1312.42 267.00 L1325.24 270.06 L1338.06 275.70 L1350.88 281.39 L1363.70 287.92 L1376.52 295.22 L1389.34 302.26 L1402.16 309.86 L1414.98 317.40 L1427.80 324.25 L1440.62 329.22 L1453.44 329.70 L1466.26 326.80 L1479.08 314.80" stroke="#ffffff" stroke-width="10.8" fill="none" stroke-linecap="square" stroke-linejoin="round" opacity="0.55" clip-path="url(#cl02)"/>
<path d="M1120.12 330.70 L1132.94 338.50 L1145.76 341.10 L1158.58 340.81 L1171.40 337.10 L1184.22 330.88 L1197.04 323.74 L1209.86 315.65 L1222.68 307.27 L1235.50 299.21 L1248.32 291.56 L1261.14 284.48 L1273.96 277.31 L1286.78 273.50 L1299.60 273.50 L1312.42 273.50 L1325.24 277.31 L1338.06 284.48 L1350.88 291.56 L1363.70 299.21 L1376.52 307.27 L1389.34 315.65 L1402.16 323.74 L1414.98 330.88 L1427.80 337.10 L1440.62 340.81 L1453.44 341.10 L1466.26 338.50 L1479.08 330.70" stroke="#ffffff" stroke-width="10.8" fill="none" stroke-linecap="square" stroke-linejoin="round" opacity="0.55" clip-path="url(#cl02)"/>
<path d="M1120.12 326.80 L1132.94 337.25 L1145.76 340.94 L1158.58 340.16 L1171.40 335.91 L1184.22 329.75 L1197.04 320.36 L1209.86 310.85 L1222.68 301.90 L1235.50 293.70 L1248.32 286.09 L1261.14 279.20 L1273.96 273.22 L1286.78 269.20 L1299.60 268.00 L1312.42 267.00 L1325.24 270.06 L1338.06 275.70 L1350.88 281.39 L1363.70 287.92 L1376.52 295.22 L1389.34 302.26 L1402.16 309.86 L1414.98 317.40 L1427.80 324.25 L1440.62 329.22 L1453.44 329.70 L1466.26 326.80 L1479.08 314.80" stroke="#f09025" stroke-width="9.0" fill="none" stroke-linecap="square" stroke-linejoin="round" clip-path="url(#cl02)"/>
<path d="M1120.12 330.70 L1132.94 338.50 L1145.76 341.10 L1158.58 340.81 L1171.40 337.10 L1184.22 330.88 L1197.04 323.74 L1209.86 315.65 L1222.68 307.27 L1235.50 299.21 L1248.32 291.56 L1261.14 284.48 L1273.96 277.31 L1286.78 273.50 L1299.60 273.50 L1312.42 273.50 L1325.24 277.31 L1338.06 284.48 L1350.88 291.56 L1363.70 299.21 L1376.52 307.27 L1389.34 315.65 L1402.16 323.74 L1414.98 330.88 L1427.80 337.10 L1440.62 340.81 L1453.44 341.10 L1466.26 338.50 L1479.08 330.70" stroke="#4574b9" stroke-width="9.0" fill="none" stroke-linecap="square" stroke-linejoin="round" clip-path="url(#cl02)"/>
<path d="M1582.10 326.30 L1594.91 336.50 L1607.71 341.06 L1620.51 340.07 L1633.32 336.00 L1646.12 329.54 L1658.92 320.77 L1671.73 310.51 L1684.53 299.33 L1697.33 289.02 L1710.14 280.48 L1722.94 272.68 L1735.74 265.76 L1748.55 259.71 L1761.35 254.44 L1774.15 251.00 L1786.96 256.41 L1799.76 262.59 L1812.56 270.13 L1825.37 279.14 L1838.17 288.92 L1850.97 300.04 L1863.78 309.30 L1876.58 317.77 L1889.38 324.94 L1902.19 328.93 L1914.99 329.76 L1927.79 324.46 L1940.60 314.80" stroke="#ffffff" stroke-width="10.8" fill="none" stroke-linecap="square" stroke-linejoin="round" opacity="0.55" clip-path="url(#cl03)"/>
<path d="M1582.10 330.70 L1594.91 338.50 L1607.71 341.10 L1620.51 340.81 L1633.32 337.10 L1646.12 330.88 L1658.92 323.74 L1671.73 315.65 L1684.53 307.27 L1697.33 299.21 L1710.14 291.56 L1722.94 284.48 L1735.74 277.31 L1748.55 273.50 L1761.35 273.50 L1774.15 273.50 L1786.96 277.31 L1799.76 284.48 L1812.56 291.56 L1825.37 299.21 L1838.17 307.27 L1850.97 315.65 L1863.78 323.74 L1876.58 330.88 L1889.38 337.10 L1902.19 340.81 L1914.99 341.10 L1927.79 338.50 L1940.60 330.70" stroke="#ffffff" stroke-width="10.8" fill="none" stroke-linecap="square" stroke-linejoin="round" opacity="0.55" clip-path="url(#cl03)"/>
<path d="M1582.10 326.30 L1594.91 336.50 L1607.71 340.47 L1620.51 334.50 L1633.32 324.93 L1646.12 308.39 L1658.92 289.05 L1671.73 262.43 L1684.53 236.97 L1697.33 213.93 L1710.14 192.08 L1722.94 173.99 L1735.74 161.33 L1748.55 152.54 L1761.35 150.80 L1774.15 152.58 L1786.96 158.51 L1799.76 172.41 L1812.56 190.23 L1825.37 211.23 L1838.17 233.33 L1850.97 257.15 L1863.78 279.59 L1876.58 300.38 L1889.38 315.42 L1902.19 324.32 L1914.99 329.76 L1927.79 324.46 L1940.60 314.80" stroke="#f09025" stroke-width="9.0" fill="none" stroke-dasharray="9.4 14.8" stroke-dashoffset="18.44" stroke-linejoin="round" clip-path="url(#cl03)"/>
<path d="M1582.10 330.70 L1594.91 338.50 L1607.71 341.10 L1620.51 340.81 L1633.32 337.10 L1646.12 330.88 L1658.92 323.74 L1671.73 315.65 L1684.53 307.27 L1697.33 299.21 L1710.14 291.56 L1722.94 284.48 L1735.74 277.31 L1748.55 273.50 L1761.35 273.50 L1774.15 273.50 L1786.96 277.31 L1799.76 284.48 L1812.56 291.56 L1825.37 299.21 L1838.17 307.27 L1850.97 315.65 L1863.78 323.74 L1876.58 330.88 L1889.38 337.10 L1902.19 340.81 L1914.99 341.10 L1927.79 338.50 L1940.60 330.70" stroke="#4574b9" stroke-width="9.0" fill="none" stroke-linecap="square" stroke-linejoin="round" clip-path="url(#cl03)"/>
<path d="M1582.10 326.30 L1594.91 336.50 L1607.71 341.06 L1620.51 340.07 L1633.32 336.00 L1646.12 329.54 L1658.92 320.77 L1671.73 310.51 L1684.53 299.33 L1697.33 289.02 L1710.14 280.48 L1722.94 272.68 L1735.74 265.76 L1748.55 259.71 L1761.35 254.44 L1774.15 251.00 L1786.96 256.41 L1799.76 262.59 L1812.56 270.13 L1825.37 279.14 L1838.17 288.92 L1850.97 300.04 L1863.78 309.30 L1876.58 317.77 L1889.38 324.94 L1902.19 328.93 L1914.99 329.76 L1927.79 324.46 L1940.60 314.80" stroke="#f09025" stroke-width="9.0" fill="none" stroke-linecap="square" stroke-linejoin="round" clip-path="url(#cl03)"/>
<path d="M197.32 678.80 L210.14 684.96 L222.96 688.45 L235.78 689.99 L248.60 688.40 L261.42 685.95 L274.24 683.23 L287.06 679.08 L299.88 672.91 L312.70 666.74 L325.52 660.49 L338.34 655.22 L351.16 650.30 L363.98 648.40 L376.80 648.40 L389.62 648.40 L402.44 650.30 L415.26 655.22 L428.08 660.49 L440.90 666.74 L453.72 672.91 L466.54 679.08 L479.36 683.23 L492.18 685.95 L505.00 688.40 L517.82 689.99 L530.64 688.45 L543.46 684.96 L556.28 678.80" stroke="#f09025" stroke-width="9.0" fill="none" stroke-linecap="square" stroke-linejoin="round" clip-path="url(#cl10)"/>
<path d="M197.32 682.30 L210.14 687.01 L222.96 689.64 L235.78 690.80 L248.60 689.84 L261.42 688.04 L274.24 685.09 L287.06 681.01 L299.88 675.49 L312.70 670.30 L325.52 665.36 L338.34 661.37 L351.16 657.77 L363.98 656.40 L376.80 656.40 L389.62 656.40 L402.44 657.77 L415.26 661.37 L428.08 665.36 L440.90 670.30 L453.72 675.49 L466.54 681.01 L479.36 685.09 L492.18 688.04 L505.00 689.84 L517.82 690.80 L530.64 689.64 L543.46 687.01 L556.28 682.30" stroke="#4574b9" stroke-width="9.0" fill="none" stroke-linecap="square" stroke-linejoin="round" clip-path="url(#cl10)"/>
<path d="M658.91 677.50 L671.71 684.46 L684.52 688.38 L697.33 689.98 L710.13 688.38 L722.94 685.04 L735.75 677.92 L748.55 670.60 L761.36 663.28 L774.17 656.34 L786.97 649.95 L799.78 644.10 L812.59 637.90 L825.39 634.73 L838.20 634.30 L851.01 634.73 L863.81 637.90 L876.62 644.10 L889.43 649.95 L902.23 656.34 L915.04 663.28 L927.85 670.60 L940.65 677.92 L953.46 685.04 L966.27 688.38 L979.07 689.98 L991.88 688.38 L1004.69 684.46 L1017.49 677.50" stroke="#f09025" stroke-width="9.0" fill="none" stroke-dasharray="9.4 14.8" stroke-dashoffset="9.14" stroke-linejoin="round" clip-path="url(#cl11)"/>
<path d="M658.91 682.30 L671.71 687.01 L684.52 689.64 L697.33 690.80 L710.13 689.84 L722.94 688.04 L735.75 685.09 L748.55 681.01 L761.36 675.49 L774.17 670.30 L786.97 665.36 L799.78 661.37 L812.59 657.77 L825.39 656.40 L838.20 656.40 L851.01 656.40 L863.81 657.77 L876.62 661.37 L889.43 665.36 L902.23 670.30 L915.04 675.49 L927.85 681.01 L940.65 685.09 L953.46 688.04 L966.27 689.84 L979.07 690.80 L991.88 689.64 L1004.69 687.01 L1017.49 682.30" stroke="#4574b9" stroke-width="9.0" fill="none" stroke-linecap="square" stroke-linejoin="round" clip-path="url(#cl11)"/>
<path d="M658.91 677.50 L671.71 684.45 L684.52 688.56 L697.33 690.29 L710.13 689.48 L722.94 687.49 L735.75 681.83 L748.55 675.62 L761.36 669.00 L774.17 662.36 L786.97 655.86 L799.78 649.37 L812.59 641.73 L825.39 637.71 L838.20 637.20 L851.01 637.71 L863.81 641.73 L876.62 649.37 L889.43 655.86 L902.23 662.36 L915.04 669.00 L927.85 675.62 L940.65 681.83 L953.46 687.49 L966.27 689.48 L979.07 690.29 L991.88 688.56 L1004.69 684.45 L1017.49 677.50" stroke="#f09025" stroke-width="9.0" fill="none" stroke-linecap="square" stroke-linejoin="round" clip-path="url(#cl11)"/>
<path d="M1120.12 662.50 L1132.94 670.09 L1145.76 672.84 L1158.58 672.89 L1171.40 669.47 L1184.22 664.82 L1197.04 659.45 L1209.86 653.78 L1222.68 648.31 L1235.50 643.22 L1248.32 638.46 L1261.14 634.11 L1273.96 629.53 L1286.78 626.90 L1299.60 628.30 L1312.42 629.95 L1325.24 634.32 L1338.06 640.31 L1350.88 646.26 L1363.70 652.43 L1376.52 658.22 L1389.34 663.73 L1402.16 668.96 L1414.98 674.00 L1427.80 680.06 L1440.62 682.66 L1453.44 682.80 L1466.26 681.24 L1479.08 673.50" stroke="#ffffff" stroke-width="10.8" fill="none" stroke-linecap="square" stroke-linejoin="round" opacity="0.55" clip-path="url(#cl12)"/>
<path d="M1120.12 679.50 L1132.94 683.16 L1145.76 684.40 L1158.58 684.15 L1171.40 682.62 L1184.22 679.10 L1197.04 675.25 L1209.86 671.29 L1222.68 666.30 L1235.50 661.00 L1248.32 655.86 L1261.14 650.70 L1273.96 644.26 L1286.78 640.70 L1299.60 640.70 L1312.42 640.70 L1325.24 644.26 L1338.06 650.70 L1350.88 655.86 L1363.70 661.00 L1376.52 666.30 L1389.34 671.29 L1402.16 675.25 L1414.98 679.10 L1427.80 682.62 L1440.62 684.15 L1453.44 684.40 L1466.26 683.16 L1479.08 679.50" stroke="#ffffff" stroke-width="10.8" fill="none" stroke-linecap="square" stroke-linejoin="round" opacity="0.55" clip-path="url(#cl12)"/>
<path d="M1120.12 662.50 L1132.94 670.09 L1145.76 672.84 L1158.58 672.89 L1171.40 669.47 L1184.22 664.82 L1197.04 659.45 L1209.86 653.78 L1222.68 648.31 L1235.50 643.22 L1248.32 638.46 L1261.14 634.11 L1273.96 629.53 L1286.78 626.90 L1299.60 628.30 L1312.42 629.95 L1325.24 634.32 L1338.06 640.31 L1350.88 646.26 L1363.70 652.43 L1376.52 658.22 L1389.34 663.73 L1402.16 668.96 L1414.98 674.00 L1427.80 680.06 L1440.62 682.66 L1453.44 682.80 L1466.26 681.24 L1479.08 673.50" stroke="#f09025" stroke-width="9.0" fill="none" stroke-linecap="square" stroke-linejoin="round" clip-path="url(#cl12)"/>
<path d="M1120.12 679.50 L1132.94 683.16 L1145.76 684.40 L1158.58 684.15 L1171.40 682.62 L1184.22 679.10 L1197.04 675.25 L1209.86 671.29 L1222.68 666.30 L1235.50 661.00 L1248.32 655.86 L1261.14 650.70 L1273.96 644.26 L1286.78 640.70 L1299.60 640.70 L1312.42 640.70 L1325.24 644.26 L1338.06 650.70 L1350.88 655.86 L1363.70 661.00 L1376.52 666.30 L1389.34 671.29 L1402.16 675.25 L1414.98 679.10 L1427.80 682.62 L1440.62 684.15 L1453.44 684.40 L1466.26 683.16 L1479.08 679.50" stroke="#4574b9" stroke-width="9.0" fill="none" stroke-linecap="square" stroke-linejoin="round" clip-path="url(#cl12)"/>
<path d="M1582.10 662.70 L1594.91 669.30 L1607.71 672.46 L1620.51 671.60 L1633.32 668.69 L1646.12 663.96 L1658.92 657.19 L1671.73 649.66 L1684.53 641.77 L1697.33 633.94 L1710.14 626.35 L1722.94 618.89 L1735.74 609.91 L1748.55 604.40 L1761.35 607.04 L1774.15 611.93 L1786.96 619.03 L1799.76 626.85 L1812.56 634.93 L1825.37 643.38 L1838.17 652.05 L1850.97 661.02 L1863.78 667.77 L1876.58 674.92 L1889.38 680.19 L1902.19 683.13 L1914.99 684.00 L1927.79 680.95 L1940.60 674.20" stroke="#ffffff" stroke-width="10.8" fill="none" stroke-linecap="square" stroke-linejoin="round" opacity="0.55" clip-path="url(#cl13)"/>
<path d="M1582.10 679.50 L1594.91 683.16 L1607.71 684.40 L1620.51 684.15 L1633.32 682.62 L1646.12 679.10 L1658.92 675.25 L1671.73 671.29 L1684.53 666.30 L1697.33 661.00 L1710.14 655.86 L1722.94 650.70 L1735.74 644.26 L1748.55 640.70 L1761.35 640.70 L1774.15 640.70 L1786.96 644.26 L1799.76 650.70 L1812.56 655.86 L1825.37 661.00 L1838.17 666.30 L1850.97 671.29 L1863.78 675.25 L1876.58 679.10 L1889.38 682.62 L1902.19 684.15 L1914.99 684.40 L1927.79 683.16 L1940.60 679.50" stroke="#ffffff" stroke-width="10.8" fill="none" stroke-linecap="square" stroke-linejoin="round" opacity="0.55" clip-path="url(#cl13)"/>
<path d="M1582.10 662.70 L1594.91 669.30 L1607.71 671.89 L1620.51 669.56 L1633.32 662.48 L1646.12 653.56 L1658.92 641.44 L1671.73 626.71 L1684.53 611.43 L1697.33 596.05 L1710.14 582.88 L1722.94 572.44 L1735.74 564.08 L1748.55 560.19 L1761.35 558.26 L1774.15 560.47 L1786.96 566.50 L1799.76 575.25 L1812.56 586.96 L1825.37 601.19 L1838.17 616.60 L1850.97 633.43 L1863.78 650.70 L1876.58 663.72 L1889.38 674.62 L1902.19 683.13 L1914.99 684.00 L1927.79 680.95 L1940.60 674.20" stroke="#f09025" stroke-width="9.0" fill="none" stroke-dasharray="9.4 14.8" stroke-dashoffset="19.78" stroke-linejoin="round" clip-path="url(#cl13)"/>
<path d="M1582.10 679.50 L1594.91 683.16 L1607.71 684.40 L1620.51 684.15 L1633.32 682.62 L1646.12 679.10 L1658.92 675.25 L1671.73 671.29 L1684.53 666.30 L1697.33 661.00 L1710.14 655.86 L1722.94 650.70 L1735.74 644.26 L1748.55 640.70 L1761.35 640.70 L1774.15 640.70 L1786.96 644.26 L1799.76 650.70 L1812.56 655.86 L1825.37 661.00 L1838.17 666.30 L1850.97 671.29 L1863.78 675.25 L1876.58 679.10 L1889.38 682.62 L1902.19 684.15 L1914.99 684.40 L1927.79 683.16 L1940.60 679.50" stroke="#4574b9" stroke-width="9.0" fill="none" stroke-linecap="square" stroke-linejoin="round" clip-path="url(#cl13)"/>
<path d="M1582.10 662.70 L1594.91 669.30 L1607.71 672.46 L1620.51 671.60 L1633.32 668.69 L1646.12 663.96 L1658.92 657.19 L1671.73 649.66 L1684.53 641.77 L1697.33 633.94 L1710.14 626.35 L1722.94 618.89 L1735.74 609.91 L1748.55 604.40 L1761.35 607.04 L1774.15 611.93 L1786.96 619.03 L1799.76 626.85 L1812.56 634.93 L1825.37 643.38 L1838.17 652.05 L1850.97 661.02 L1863.78 667.77 L1876.58 674.92 L1889.38 680.19 L1902.19 683.13 L1914.99 684.00 L1927.79 680.95 L1940.60 674.20" stroke="#f09025" stroke-width="9.0" fill="none" stroke-linecap="square" stroke-linejoin="round" clip-path="url(#cl13)"/>
<path d="M734.10 258.70L784.61 266.38" stroke="#0a0a0a" stroke-width="2.5" fill="none" stroke-linecap="butt"/><path d="M792.40 267.30L783.80 260.70L784.61 266.38L782.00 271.65Z" fill="#0a0a0a"/>
<path d="M945.90 244.90L925.17 261.03" stroke="#0a0a0a" stroke-width="2.5" fill="none" stroke-linecap="butt"/><path d="M919.10 265.50L923.30 255.50L925.17 261.03L929.70 264.60Z" fill="#0a0a0a"/>
<path d="M1855.10 166.80L1842.75 201.37" stroke="#0a0a0a" stroke-width="2.5" fill="none" stroke-linecap="butt"/><path d="M1839.80 209.00L1838.00 197.90L1842.75 201.37L1848.80 201.50Z" fill="#0a0a0a"/>
<path d="M1742.80 234.60L1749.51 241.94" stroke="#0a0a0a" stroke-width="2.5" fill="none" stroke-linecap="butt"/><path d="M1754.80 247.70L1744.40 244.25L1749.51 241.94L1752.30 237.10Z" fill="#0a0a0a"/>
<path d="M1852.30 523.60L1821.22 575.47" stroke="#0a0a0a" stroke-width="2.5" fill="none" stroke-linecap="butt"/><path d="M1817.30 582.40L1817.30 571.00L1821.22 575.47L1826.85 576.90Z" fill="#0a0a0a"/>
<path d="M1682.10 595.40L1711.75 603.98" stroke="#0a0a0a" stroke-width="2.5" fill="none" stroke-linecap="butt"/><path d="M1719.50 606.30L1711.60 598.30L1711.75 603.98L1708.50 608.65Z" fill="#0a0a0a"/>
<path d="M252.00 672.50 L254.29 670.39 L256.58 668.22 L258.87 666.01 L261.16 663.79 L263.46 661.58 L265.75 659.39 L268.04 657.26 L270.33 655.21 L272.62 653.24 L274.91 651.39 L277.20 649.66 L279.49 648.03 L281.78 646.49 L284.08 645.02 L286.37 643.61 L288.66 642.26 L290.95 640.94 L293.24 639.65 L295.53 638.40 L297.82 637.19 L300.11 636.02 L302.41 634.89 L304.70 633.80 L306.99 632.76 L309.28 631.77 L311.57 630.82 L313.86 629.91 L316.15 629.05 L318.44 628.23 L320.73 627.46 L323.03 626.72 L325.32 626.02 L327.61 625.36 L329.90 624.75 L332.19 624.16 L334.48 623.62 L336.77 623.11 L339.06 622.64 L341.35 622.20 L343.65 621.80 L345.94 621.44 L348.23 621.12 L350.52 620.84 L352.81 620.60 L355.10 620.39 L357.39 620.21 L359.68 620.06 L361.97 619.93 L364.27 619.82 L366.56 619.72 L368.85 619.65 L371.14 619.59 L373.43 619.56 L375.72 619.56 L378.01 619.59 L380.30 619.65 L382.59 619.75 L384.89 619.89 L387.18 620.06 L389.47 620.27 L391.76 620.53 L394.05 620.82 L396.34 621.16 L398.63 621.54 L400.92 621.97 L403.22 622.43 L405.51 622.93 L407.80 623.44 L410.09 623.97 L412.38 624.51 L414.67 625.05 L416.96 625.59 L419.25 626.13 L421.54 626.68 L423.84 627.26 L426.13 627.86 L428.42 628.52 L430.71 629.23 L433.00 630.00" stroke="#231f20" stroke-width="3.6" fill="none" stroke-linejoin="round"/>
<circle cx="251.6" cy="673.8" r="10.8" fill="#231f20"/>
<path d="M449.9 636.65 L433.2 615.8 L433.5 628.4 L431.2 631.1 L423.8 639.9 Q437 636.3 449.9 636.65 Z" fill="#231f20"/>
</svg></body></html>
